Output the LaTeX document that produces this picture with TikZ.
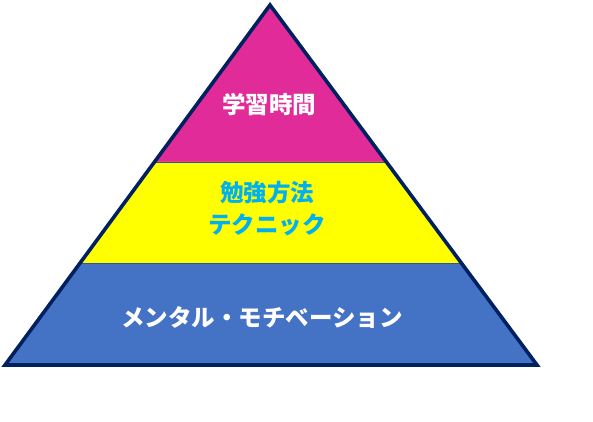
\documentclass[tikz,border=0pt]{standalone}
\usepackage{fontspec}
\newfontfamily\jp{Noto Sans CJK JP}
\usetikzlibrary{calc, positioning}
\definecolor{topmag}{RGB}{224,43,153}
\definecolor{midyel}{RGB}{255,255,0}
\definecolor{lowblu}{RGB}{68,114,196}
\definecolor{edgenavy}{RGB}{0,32,96}
\definecolor{sepblu}{RGB}{47,85,151}
\definecolor{midtext}{RGB}{0,176,240}

\begin{document}
\begin{tikzpicture}[x=1pt,y=-1pt,
    tiertext/.style={font=\jp\bfseries\fontsize{23.5}{32}\selectfont, text=white, align=center},
    sep/.style={draw=sepblu, line width=.8pt}]
      \useasboundingbox (0,0) rectangle (593,421);
      \coordinate (top) at (270,5);
      \coordinate (bl) at (5,365);
      \coordinate (br) at (537,365);
      \coordinate (l1) at ($(top)!.436!(bl)$);
      \coordinate (r1) at ($(top)!.436!(br)$);
      \coordinate (l2) at ($(top)!.717!(bl)$);
      \coordinate (r2) at ($(top)!.717!(br)$);

      \fill[topmag] (top) -- (r1) -- (l1) -- cycle;
      \fill[midyel] (l1) -- (r1) -- (r2) -- (l2) -- cycle;
      \fill[lowblu] (l2) -- (r2) -- (br) -- (bl) -- cycle;
      \draw[sep] (l1) -- (r1);
      \draw[sep] (l2) -- (r2);
      \draw[edgenavy, line width=3.6pt] (top) -- (br) -- (bl) -- cycle;

      \node[tiertext] (study) at (269,105) {学習時間};
      \node[tiertext, text=midtext] (method) at (267,209) {勉強方法\\テクニック};
      \node[tiertext] (mental) at (262,318) {メンタル・モチベーション};
    \end{tikzpicture}
\end{document}
